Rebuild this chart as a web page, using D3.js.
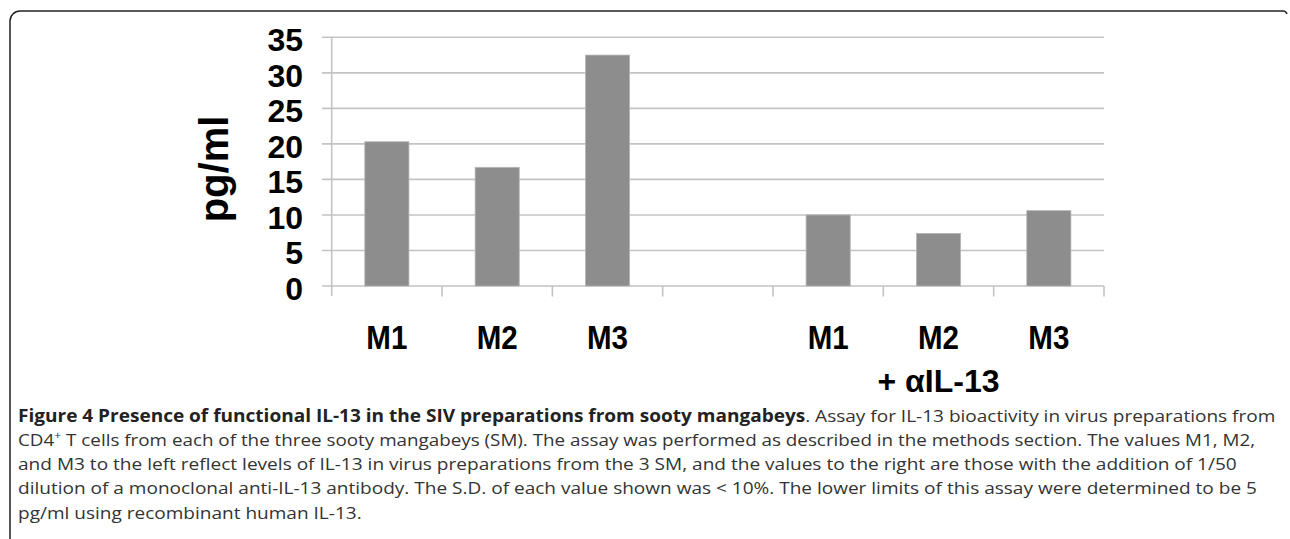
<!DOCTYPE html>
<html>
<head>
<meta charset="utf-8">
<script src="https://cdn.jsdelivr.net/npm/d3@7"></script>
<style>
  html, body { margin: 0; padding: 0; background: #fff; }
  svg { display: block; }
</style>
</head>
<body>
<div id="chart"></div>
<script>
const WIDTH = 1290;
const HEIGHT = 539;

// bar slots, the 4th one is the empty gap between the two groups
const slots = ['L-M1', 'L-M2', 'L-M3', 'gap', 'R-M1', 'R-M2', 'R-M3'];
const slotLabels = ['M1', 'M2', 'M3', '', 'M1', 'M2', 'M3'];
const values = [20.3, 16.7, 32.5, null, 10.0, 7.4, 10.6];
const yTicks = [0, 5, 10, 15, 20, 25, 30, 35];

const captionBold = 'Figure 4 Presence of functional IL-13 in the SIV preparations from sooty mangabeys';
const captionLines = [
    '. Assay for IL-13 bioactivity in virus preparations from',
    ' T cells from each of the three sooty mangabeys (SM). The assay was performed as described in the methods section. The values M1, M2,',
    'and M3 to the left reflect levels of IL-13 in virus preparations from the 3 SM, and the values to the right are those with the addition of 1/50',
    'dilution of a monoclonal anti-IL-13 antibody. The S.D. of each value shown was < 10%. The lower limits of this assay were determined to be 5',
    'pg/ml using recombinant human IL-13.'
];
// right edges of caption lines as measured on the figure (last line just reuses the previous squeeze)
const captionEnds = [1276.5, 1256, 1238, 1258, null];

let svg = d3.select('#chart').append('svg')
    .attr('width', WIDTH)
    .attr('height', HEIGHT);

// frame round the figure
svg.append('path')
    .attr('d', 'M10,539 V21 A10,10 0 0 1 20,11 H1283 Q1286,11 1287,14')
    .attr('fill', 'none')
    .attr('stroke', '#222')
    .attr('stroke-width', 1.5);

const gridColor = '#c3c3c3';

let x = d3.scaleBand()
    .domain(slots)
    .range([331.7, 1104])
    .paddingInner(0.6)
    .paddingOuter(0.3);

let y = d3.scaleLinear()
    .domain([0, 35])
    .range([286, 37.3]);

// horizontal gridlines
svg.append('g')
    .selectAll('line')
    .data(yTicks)
    .enter().append('line')
    .attr('x1', 322)
    .attr('x2', 1104)
    .attr('y1', d => y(d))
    .attr('y2', d => y(d))
    .attr('stroke', gridColor)
    .attr('stroke-width', 1.6);

// y axis line
svg.append('line')
    .attr('x1', x.range()[0]).attr('x2', x.range()[0])
    .attr('y1', y(35)).attr('y2', y(0) + 10)
    .attr('stroke', gridColor)
    .attr('stroke-width', 1.6);

// x tick marks at category boundaries
let bounds = d3.range(slots.length + 1).map(i => x.range()[0] + i * x.step());
svg.append('g')
    .selectAll('line')
    .data(bounds.slice(1))
    .enter().append('line')
    .attr('x1', d => d).attr('x2', d => d)
    .attr('y1', y(0)).attr('y2', y(0) + 10.5)
    .attr('stroke', gridColor)
    .attr('stroke-width', 1.6);

// bars
let barData = slots.map((s, i) => ({ slot: s, value: values[i] })).filter(d => d.value !== null);
svg.append('g')
    .selectAll('rect')
    .data(barData)
    .enter().append('rect')
    .attr('x', d => x(d.slot))
    .attr('width', x.bandwidth())
    .attr('y', d => y(d.value))
    .attr('height', d => y(0) - y(d.value))
    .attr('fill', '#8d8d8d')
    .attr('stroke', '#b5b5b5')
    .attr('stroke-width', 0.8);

// y tick labels
svg.append('g')
    .selectAll('text')
    .data(yTicks)
    .enter().append('text')
    .attr('x', 303)
    .attr('y', d => y(d) + 14)
    .attr('text-anchor', 'end')
    .attr('font-family', '"Liberation Sans", Arial, sans-serif')
    .attr('font-weight', 'bold')
    .attr('font-size', 32)
    .attr('fill', '#000')
    .text(d => d);

// y axis title
svg.append('text')
    .attr('transform', 'translate(228,169) rotate(-90)')
    .attr('text-anchor', 'middle')
    .attr('font-family', '"Liberation Sans", Arial, sans-serif')
    .attr('font-weight', 'bold')
    .attr('font-size', 40)
    .attr('fill', '#000')
    .text('pg/ml');

// x category labels
svg.append('g')
    .selectAll('text')
    .data(slots)
    .enter().append('text')
    .attr('x', d => x(d) + x.bandwidth() / 2)
    .attr('y', 349)
    .attr('text-anchor', 'middle')
    .attr('font-family', '"Liberation Sans", Arial, sans-serif')
    .attr('font-weight', 'bold')
    .attr('font-size', 33)
    .attr('textLength', 41)
    .attr('lengthAdjust', 'spacingAndGlyphs')
    .attr('fill', '#000')
    .text((d, i) => slotLabels[i]);

// group label under the right hand group
svg.append('text')
    .attr('x', x('R-M2') + x.bandwidth() / 2)
    .attr('y', 392)
    .attr('text-anchor', 'middle')
    .attr('font-family', '"Liberation Sans", Arial, sans-serif')
    .attr('font-weight', 'bold')
    .attr('font-size', 32)
    .attr('fill', '#000')
    .text('+ \u03B1IL-13');

// caption
let caption = svg.append('g')
    .attr('font-family', '"Open Sans", "Noto Sans", sans-serif')
    .attr('font-size', 17)
    .attr('fill', '#333');

let lastScale = 1;
captionLines.forEach((line, i) => {
    let t = caption.append('text')
        .attr('x', 0)
        .attr('y', 0);
    if (i === 0) {
        t.append('tspan').attr('font-weight', 'bold').attr('fill', '#222').text(captionBold);
        t.append('tspan').text(line);
    } else if (i === 1) {
        t.append('tspan').text('CD4');
        t.append('tspan').attr('font-size', 11).attr('dy', -7).text('+');
        t.append('tspan').attr('dy', 7).text(line);
    } else {
        t.text(line);
    }
    // squeeze each line to the width it has on the figure
    let natural = t.node().getComputedTextLength();
    let sx = captionEnds[i] ? (captionEnds[i] - 18) / natural : lastScale;
    lastScale = sx;
    t.attr('transform', `translate(18, ${421.7 + i * 24.2}) scale(${sx}, 1)`);
});
</script>
</body>
</html>
